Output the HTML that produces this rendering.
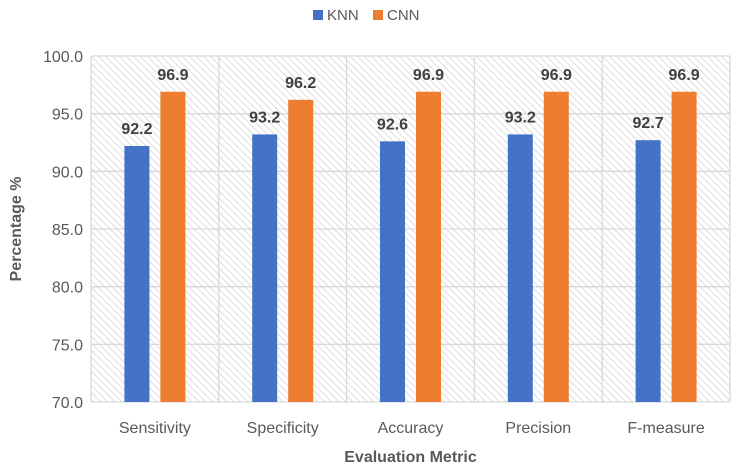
<!DOCTYPE html>
<html><head><meta charset="utf-8"><style>
body{margin:0;background:#fff;}
svg{display:block;font-family:"Liberation Sans",sans-serif;}
</style></head><body>
<svg id="chart" width="741" height="471">
<defs>
<pattern id="hatch" width="7" height="7" patternUnits="userSpaceOnUse">
<path d="M0,0 L7,7 M-1,6 L1,8 M6,-1 L8,1" stroke="#dedede" stroke-width="1"/>
</pattern>
</defs>
</svg>
<script>
const categories=["Sensitivity","Specificity","Accuracy","Precision","F-measure"];
const knnValues=[92.2,93.2,92.6,93.2,92.7];
const cnnValues=[96.9,96.2,96.9,96.9,96.9];
const yTicks=[70,75,80,85,90,95,100];
const svg=document.getElementById('chart');
const NS='http://www.w3.org/2000/svg';
const L=91,R=730,T=56,B=402,yMin=70,yMax=100;
const y=v=>B-(v-yMin)/(yMax-yMin)*(B-T);
const cw=(R-L)/categories.length;
const cx=i=>L+cw*(i+0.5);
function el(tag,attrs,txt){const e=document.createElementNS(NS,tag);for(const k in attrs)e.setAttribute(k,attrs[k]);if(txt!=null)e.textContent=txt;svg.appendChild(e);return e;}
const bg=el('rect',{x:L,y:T,width:R-L,height:B-T,fill:'url(#hatch)'});


yTicks.forEach(t=>{
 const g=el('line',{x1:L,x2:R,y1:y(t),y2:y(t),stroke:'#d9d9d9','stroke-width':1.3});
 
 
 const lb=el('text',{x:L-8,y:y(t)+6,'text-anchor':'end','font-size':16,fill:'#595959'},t.toFixed(1));
 
 
});
for(let i=0;i<=categories.length;i++){
 const v=el('line',{x1:L+cw*i,x2:L+cw*i,y1:T,y2:B,stroke:'#d9d9d9','stroke-width':1.3});
 
 
}
const bw=25,off=18;
categories.forEach((c,i)=>{
 [[knnValues[i],-off,'#4472c4','bar-knn'],[cnnValues[i],off,'#ed7d31','bar-cnn']].forEach(([v,o,col,nm])=>{
  const b=el('rect',{x:cx(i)+o-bw/2,y:y(v),width:bw,height:B-y(v),fill:col});
  
  
  const t=el('text',{x:cx(i)+o,y:y(v)-12,'text-anchor':'middle','font-size':16,'font-weight':'bold',fill:'#404040'},v.toFixed(1));
  
  
 });
 const xl=el('text',{x:cx(i),y:433,'text-anchor':'middle','font-size':16,fill:'#595959'},c);
 
 
});
const xt=el('text',{x:(L+R)/2,y:462,'text-anchor':'middle','font-size':16,'font-weight':'bold',fill:'#595959'},'Evaluation Metric');


const yt=el('text',{x:0,y:0,transform:'translate(21,229) rotate(-90)','text-anchor':'middle','font-size':16,'font-weight':'bold',fill:'#595959'},'Percentage %');


const lg=[['KNN','#4472c4',313],['CNN','#ed7d31',373]];
lg.forEach(([n,c,x])=>{
 const s=el('rect',{x:x,y:10,width:10,height:10,fill:c});
 
 
 const t=el('text',{x:x+14,y:20,'font-size':15,fill:'#595959'},n);
 
 
});
</script>
</body></html>
